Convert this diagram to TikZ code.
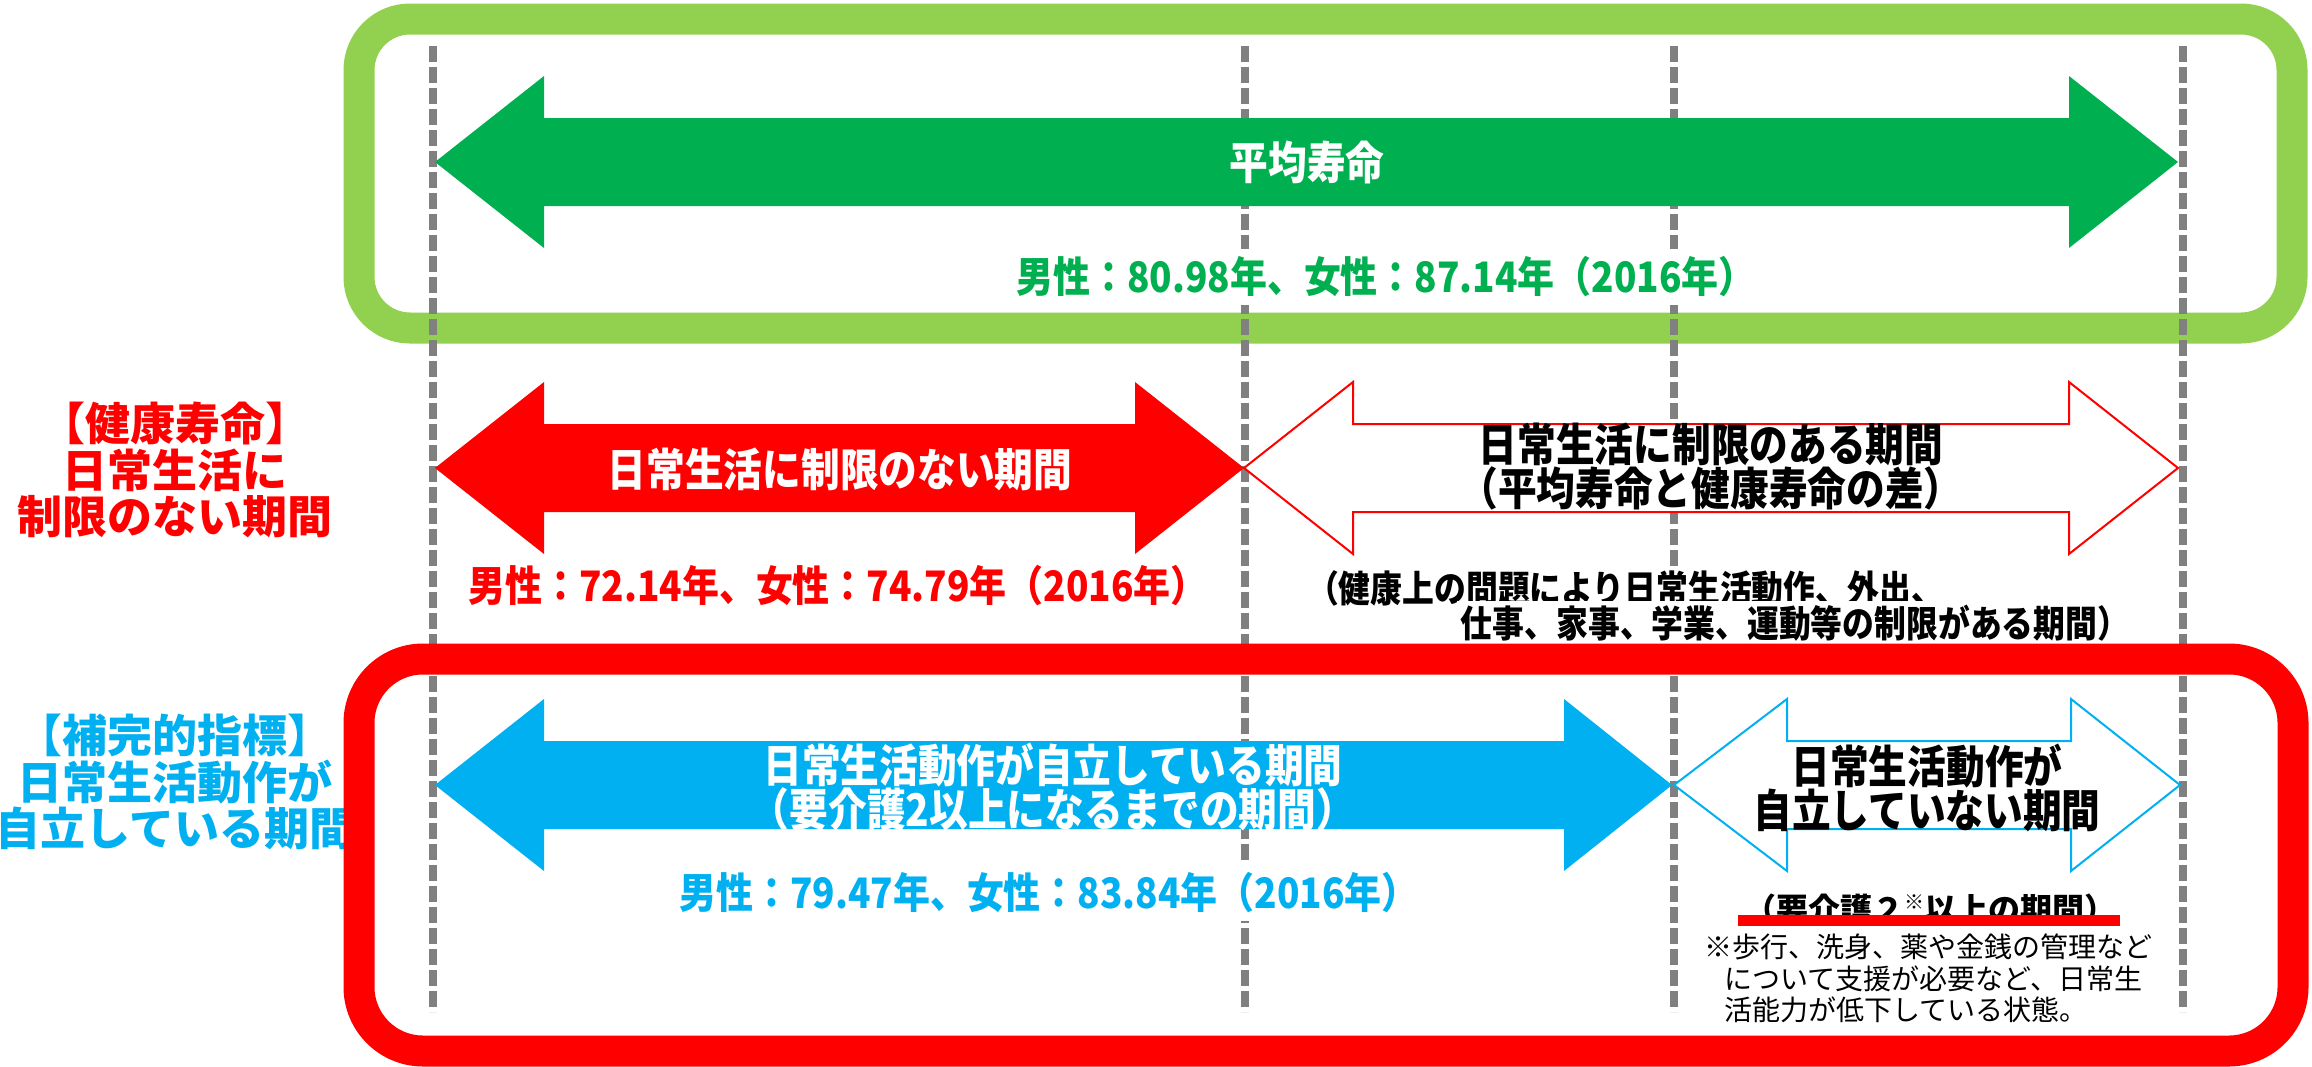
\documentclass[tikz,border=0pt]{standalone}
\usepackage{fontspec}
\setmainfont{Noto Sans CJK JP}
\newfontfamily\narrowA{Noto Sans CJK JP}[FakeStretch=0.86]
\newfontfamily\narrowB{Noto Sans CJK JP}[FakeStretch=0.88]
\definecolor{cArrowG}{HTML}{00B050}
\definecolor{cFrameG}{HTML}{92D050}
\definecolor{cRed}{HTML}{FF0000}
\definecolor{cBlue}{HTML}{00B0F0}
\definecolor{cGrid}{HTML}{808080}
\newcommand\dblarr[6]{% style, xL, xR, bL, bR, yc
  \path[#1] (#2,#6) -- (#4,#6-86) -- (#4,#6-44) -- (#5,#6-44) -- (#5,#6-86) -- (#3,#6)
    -- (#5,#6+86) -- (#5,#6+44) -- (#4,#6+44) -- (#4,#6+86) -- cycle;}
\begin{document}
\begin{tikzpicture}[x=1pt,y=-1pt,
  every node/.style={inner sep=0pt},
  gframe/.style={draw=cFrameG, line width=31pt, rounded corners=51pt},
  rframe/.style={draw=cRed, line width=31pt, rounded corners=64pt},
  gridline/.style={draw=cGrid, line width=8pt, dash pattern=on 16pt off 5pt},
  solidarr/.style={fill=#1},
  outarr/.style={draw=#1, fill=white, line width=2pt},
  biglabel/.style={text=#1, align=center, font=\narrowA\bfseries\fontsize{45pt}{44pt}\selectfont},
  stat/.style={text=#1, fill=white, inner sep=8pt, font=\narrowB\bfseries\fontsize{42pt}{44pt}\selectfont},
  note/.style={fill=white, inner sep=4pt, font=\narrowA\bfseries\fontsize{37pt}{40pt}\selectfont},
  small/.style={anchor=west, font=\fontsize{28pt}{31pt}\selectfont},
  sidelabel/.style={text=#1, align=center, font=\bfseries\fontsize{45pt}{46.5pt}\selectfont}]
\fill[white] (0,0) rectangle (2312,1066);
\useasboundingbox (0,0) rectangle (2312,1066);

% green frame
\draw[gframe] (359,19) rectangle (2292,328);

% vertical dashed guide lines
\foreach \gx in {433,1245,1674,2183}
  \draw[gridline] (\gx,46) -- (\gx,1012);

% arrows
\dblarr{solidarr=cArrowG}{435}{2178}{544}{2069}{162}
\dblarr{solidarr=cRed}{435}{1244}{544}{1135}{468}
\dblarr{outarr=cRed}{1244}{2178}{1353}{2069}{468}
\dblarr{solidarr=cBlue}{435}{1672}{544}{1564}{785}
\dblarr{outarr=cBlue}{1674}{2180}{1787}{2071}{785}

% arrow labels
\node[biglabel=white] (avg) at (1307,162) {平均寿命};
\node[stat=cArrowG] (avgstat) at (1386,277) {男性：80.98年、女性：87.14年（2016年）};

\node[biglabel=white] (free) at (840,469) {日常生活に制限のない期間};
\node[biglabel=black] (limited) at (1711,467) {日常生活に制限のある期間\\（平均寿命と健康寿命の差）};
\node[stat=cRed] (freestat) at (838,586) {男性：72.14年、女性：74.79年（2016年）};
\node[note] (note1) at (1625,588) {（健康上の問題により日常生活動作、外出、};
\node[note] (note2) at (1795,623) {仕事、家事、学業、運動等の制限がある期間）};

\node[biglabel=white] (indep) at (1053,787) {日常生活動作が自立している期間\\（要介護2以上になるまでの期間）};
\node[biglabel=black] (dep) at (1927,788) {日常生活動作が\\自立していない期間};
\node[stat=cBlue] (indepstat) at (1049,893) {男性：79.47年、女性：83.84年（2016年）};

\node[font=\bfseries\fontsize{32pt}{34pt}\selectfont] (care) at (1930,909)
  {（要介護２\raisebox{0.35em}{\fontsize{20pt}{20pt}\selectfont ※}以上の期間）};
\fill[cRed] (1738,915) rectangle (2120,926);

\node[small] (sm1) at (1704,947) {※歩行、洗身、薬や金銭の管理など};
\node[small] (sm2) at (1724,979) {について支援が必要など、日常生};
\node[small] (sm3) at (1724,1010) {活能力が低下している状態。};

% side labels
\node[sidelabel=cRed] (healthy) at (175,470) {【健康寿命】\\日常生活に\\制限のない期間};
\node[sidelabel=cBlue] (suppl) at (175,782) {【補完的指標】\\日常生活動作が\\自立している期間};

% red frame
\draw[rframe] (359,659) rectangle (2293,1051);
\end{tikzpicture}
\end{document}
